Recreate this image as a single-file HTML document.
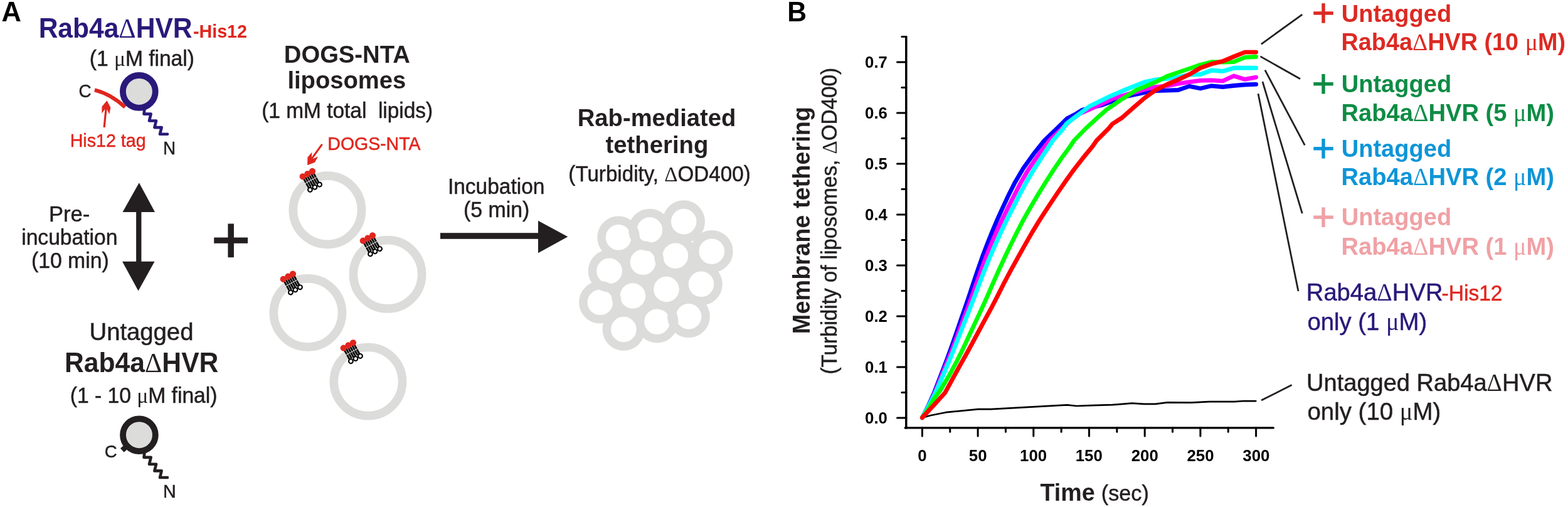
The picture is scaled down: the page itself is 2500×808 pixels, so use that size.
<!DOCTYPE html>
<html><head><meta charset="utf-8"><title>Figure</title>
<style>html,body{margin:0;padding:0;background:#fff;}svg{display:block;}text{font-family:"Liberation Sans", Arial, sans-serif;white-space:pre;}</style>
</head><body>
<svg width="2500" height="808" viewBox="0 0 2500 808">
<rect width="2500" height="808" fill="#fff"/>
<text transform="matrix(1 0 0 1.030 2.51 33.70)" style="font-size:43.50px;fill:#000;stroke:#000;stroke-width:0"><tspan style="font-weight:bold">A</tspan></text>
<text transform="matrix(1 0 0 1.030 61.65 59.50)" style="font-size:42.54px;fill:#2a197a;stroke:#2a197a;stroke-width:0"><tspan style="font-weight:bold">Rab4a</tspan><tspan style="font-weight:normal;font-family:'Liberation Serif',serif">Δ</tspan><tspan style="font-weight:bold">HVR</tspan></text>
<text transform="matrix(1 0 0 1.030 307.94 59.90)" style="font-size:28.69px;fill:#e0261e;stroke:#e0261e;stroke-width:0"><tspan style="font-weight:bold">-His12</tspan></text>
<text transform="matrix(1 0 0 1.030 142.74 104.60)" style="font-size:33.57px;fill:#231f20;stroke:#231f20;stroke-width:0"><tspan style="font-weight:normal;stroke-width:0.5px">(1 </tspan><tspan style="font-weight:normal;font-family:'Liberation Serif',serif">μ</tspan><tspan style="font-weight:normal;stroke-width:0.5px">M final)</tspan></text>
<text transform="matrix(1 0 0 1.030 125.61 154.60)" style="font-size:27.80px;fill:#231f20;stroke:#231f20;stroke-width:0"><tspan style="font-weight:normal;stroke-width:0.5px">C</tspan></text>
<text transform="matrix(1 0 0 1.030 111.69 233.70)" style="font-size:28.64px;fill:#e0261e;stroke:#e0261e;stroke-width:0"><tspan style="font-weight:normal;stroke-width:0.5px">His12 tag</tspan></text>
<text transform="matrix(1 0 0 1.030 260.09 245.50)" style="font-size:27.80px;fill:#231f20;stroke:#231f20;stroke-width:0"><tspan style="font-weight:normal;stroke-width:0.5px">N</tspan></text>
<text transform="matrix(1 0 0 1.030 77.95 353.20)" style="font-size:34.55px;fill:#231f20;stroke:#231f20;stroke-width:0"><tspan style="font-weight:normal;stroke-width:0.5px">Pre-</tspan></text>
<text transform="matrix(1 0 0 1.030 34.19 389.50)" style="font-size:33.62px;fill:#231f20;stroke:#231f20;stroke-width:0"><tspan style="font-weight:normal;stroke-width:0.5px">incubation</tspan></text>
<text transform="matrix(1 0 0 1.030 50.00 427.20)" style="font-size:33.73px;fill:#231f20;stroke:#231f20;stroke-width:0"><tspan style="font-weight:normal;stroke-width:0.5px">(10 min)</tspan></text>
<text transform="matrix(1 0 0 1.030 142.53 542.00)" style="font-size:38.27px;fill:#231f20;stroke:#231f20;stroke-width:0"><tspan style="font-weight:normal;stroke-width:0.5px">Untagged</tspan></text>
<text transform="matrix(1 0 0 1.030 102.99 592.70)" style="font-size:42.63px;fill:#231f20;stroke:#231f20;stroke-width:0"><tspan style="font-weight:bold">Rab4a</tspan><tspan style="font-weight:normal;font-family:'Liberation Serif',serif">Δ</tspan><tspan style="font-weight:bold">HVR</tspan></text>
<text transform="matrix(1 0 0 1.030 111.74 641.60)" style="font-size:33.63px;fill:#231f20;stroke:#231f20;stroke-width:0"><tspan style="font-weight:normal;stroke-width:0.5px">(1 - 10 </tspan><tspan style="font-weight:normal;font-family:'Liberation Serif',serif">μ</tspan><tspan style="font-weight:normal;stroke-width:0.5px">M final)</tspan></text>
<text transform="matrix(1 0 0 1.030 166.75 729.30)" style="font-size:27.60px;fill:#231f20;stroke:#231f20;stroke-width:0"><tspan style="font-weight:normal;stroke-width:0.5px">C</tspan></text>
<text transform="matrix(1 0 0 1.030 259.88 793.40)" style="font-size:28.60px;fill:#231f20;stroke:#231f20;stroke-width:0"><tspan style="font-weight:normal;stroke-width:0.5px">N</tspan></text>
<text transform="matrix(1 0 0 1.030 452.80 100.00)" style="font-size:38.23px;fill:#231f20;stroke:#231f20;stroke-width:0"><tspan style="font-weight:bold">DOGS-NTA</tspan></text>
<text transform="matrix(1 0 0 1.030 458.38 141.10)" style="font-size:38.19px;fill:#231f20;stroke:#231f20;stroke-width:0"><tspan style="font-weight:bold">liposomes</tspan></text>
<text transform="matrix(1 0 0 1.030 417.24 188.10)" style="font-size:33.43px;fill:#231f20;stroke:#231f20;stroke-width:0"><tspan style="font-weight:normal;stroke-width:0.5px">(1 mM total  lipids)</tspan></text>
<text transform="matrix(1 0 0 1.030 522.35 238.70)" style="font-size:28.46px;fill:#e0261e;stroke:#e0261e;stroke-width:0"><tspan style="font-weight:normal;stroke-width:0.5px">DOGS-NTA</tspan></text>
<text transform="matrix(1 0 0 1.030 713.90 308.60)" style="font-size:33.50px;fill:#231f20;stroke:#231f20;stroke-width:0"><tspan style="font-weight:normal;stroke-width:0.5px">Incubation</tspan></text>
<text transform="matrix(1 0 0 1.030 738.94 345.70)" style="font-size:33.86px;fill:#231f20;stroke:#231f20;stroke-width:0"><tspan style="font-weight:normal;stroke-width:0.5px">(5 min)</tspan></text>
<text transform="matrix(1 0 0 1.030 920.70 200.50)" style="font-size:38.23px;fill:#231f20;stroke:#231f20;stroke-width:0"><tspan style="font-weight:bold">Rab-mediated</tspan></text>
<text transform="matrix(1 0 0 1.030 965.46 243.50)" style="font-size:38.33px;fill:#231f20;stroke:#231f20;stroke-width:0"><tspan style="font-weight:bold">tethering</tspan></text>
<text transform="matrix(1 0 0 1.030 906.34 289.00)" style="font-size:33.16px;fill:#231f20;stroke:#231f20;stroke-width:0"><tspan style="font-weight:normal;stroke-width:0.5px">(Turbidity, </tspan><tspan style="font-weight:normal;font-family:'Liberation Serif',serif">Δ</tspan><tspan style="font-weight:normal;stroke-width:0.5px">OD400)</tspan></text>
<circle cx="221.8" cy="145.9" r="25.9" fill="#dcdcdb" stroke="#2a197a" stroke-width="9.8"/>
<polyline points="230.2,175.2 229.5,181.6 240.6,181.6 238.0,192.5 249.0,192.5 246.4,203.1 257.6,203.1 255.0,213.7 267.0,213.7" fill="none" stroke="#2a197a" stroke-width="4.6" stroke-linecap="round" stroke-linejoin="round"/>
<circle cx="221.9" cy="693.2" r="25.9" fill="#dcdcdb" stroke="#231f20" stroke-width="9.8"/>
<polyline points="230.2,722.5 229.5,728.9 240.6,728.9 238.0,739.8 249.0,739.8 246.4,750.4 257.6,750.4 255.0,761.0 267.0,761.0" fill="none" stroke="#231f20" stroke-width="4.6" stroke-linecap="round" stroke-linejoin="round"/>
<path d="M150.9,143.3 Q178,150.5 199.4,170.8" fill="none" stroke="#e0261e" stroke-width="6"/>
<line x1="166.1" y1="203" x2="169.2" y2="172" stroke="#e0261e" stroke-width="3.2"/>
<path d="M170.50,160.30 L176.38,171.46 L174.29,182.00 L170.75,174.40 L167.37,174.05 L162.35,180.77 L162.46,170.02 Z" fill="#e0261e"/>
<line x1="201.8" y1="711.3" x2="194.8" y2="717.6" stroke="#231f20" stroke-width="8.5"/>
<path d="M221.8,291.3 L247,338.1 L225.4,338.1 L225.4,416.8 L246.5,416.8 L220.5,463.6 L195,416.8 L217.1,416.8 L217.1,338.1 L195.5,338.1 Z" fill="#231f20"/>
<rect x="341.2" y="378.5" width="53.8" height="9.3" fill="#231f20"/>
<rect x="363.4" y="356.5" width="9.5" height="53.7" fill="#231f20"/>
<circle cx="521.9" cy="334.8" r="54.6" fill="none" stroke="#dcdcdb" stroke-width="13.7"/>
<circle cx="618.0" cy="437.2" r="54.6" fill="none" stroke="#dcdcdb" stroke-width="13.7"/>
<circle cx="490.9" cy="498.4" r="54.6" fill="none" stroke="#dcdcdb" stroke-width="13.7"/>
<circle cx="586.9" cy="608.1" r="54.6" fill="none" stroke="#dcdcdb" stroke-width="13.7"/>
<g transform="translate(495.9 287.3) rotate(-28.7)"><line x1="-9.00" y1="-8.6" x2="-9.00" y2="-0.55" stroke="#000" stroke-width="2.75"/><line x1="-9.00" y1="0.55" x2="-9.00" y2="9.2" stroke="#000" stroke-width="2.75"/><line x1="-5.40" y1="-8.6" x2="-5.40" y2="-0.55" stroke="#000" stroke-width="2.75"/><line x1="-5.40" y1="0.55" x2="-5.40" y2="9.2" stroke="#000" stroke-width="2.75"/><line x1="-1.80" y1="-8.6" x2="-1.80" y2="-0.55" stroke="#000" stroke-width="2.75"/><line x1="-1.80" y1="0.55" x2="-1.80" y2="9.2" stroke="#000" stroke-width="2.75"/><line x1="1.80" y1="-8.6" x2="1.80" y2="-0.55" stroke="#000" stroke-width="2.75"/><line x1="1.80" y1="0.55" x2="1.80" y2="9.2" stroke="#000" stroke-width="2.75"/><line x1="5.40" y1="-8.6" x2="5.40" y2="-0.55" stroke="#000" stroke-width="2.75"/><line x1="5.40" y1="0.55" x2="5.40" y2="9.2" stroke="#000" stroke-width="2.75"/><line x1="9.00" y1="-8.6" x2="9.00" y2="-0.55" stroke="#000" stroke-width="2.75"/><line x1="9.00" y1="0.55" x2="9.00" y2="9.2" stroke="#000" stroke-width="2.75"/><circle cx="-8.70" cy="-11.6" r="5.1" fill="#e0261e"/><circle cx="-8.60" cy="12.5" r="3.4" fill="#fff" stroke="#000" stroke-width="2.1"/><circle cx="0.00" cy="-11.6" r="5.1" fill="#e0261e"/><circle cx="0.00" cy="12.5" r="3.4" fill="#fff" stroke="#000" stroke-width="2.1"/><circle cx="8.70" cy="-11.6" r="5.1" fill="#e0261e"/><circle cx="8.60" cy="12.5" r="3.4" fill="#fff" stroke="#000" stroke-width="2.1"/></g>
<g transform="translate(592.0 389.7) rotate(-28.7)"><line x1="-9.00" y1="-8.6" x2="-9.00" y2="-0.55" stroke="#000" stroke-width="2.75"/><line x1="-9.00" y1="0.55" x2="-9.00" y2="9.2" stroke="#000" stroke-width="2.75"/><line x1="-5.40" y1="-8.6" x2="-5.40" y2="-0.55" stroke="#000" stroke-width="2.75"/><line x1="-5.40" y1="0.55" x2="-5.40" y2="9.2" stroke="#000" stroke-width="2.75"/><line x1="-1.80" y1="-8.6" x2="-1.80" y2="-0.55" stroke="#000" stroke-width="2.75"/><line x1="-1.80" y1="0.55" x2="-1.80" y2="9.2" stroke="#000" stroke-width="2.75"/><line x1="1.80" y1="-8.6" x2="1.80" y2="-0.55" stroke="#000" stroke-width="2.75"/><line x1="1.80" y1="0.55" x2="1.80" y2="9.2" stroke="#000" stroke-width="2.75"/><line x1="5.40" y1="-8.6" x2="5.40" y2="-0.55" stroke="#000" stroke-width="2.75"/><line x1="5.40" y1="0.55" x2="5.40" y2="9.2" stroke="#000" stroke-width="2.75"/><line x1="9.00" y1="-8.6" x2="9.00" y2="-0.55" stroke="#000" stroke-width="2.75"/><line x1="9.00" y1="0.55" x2="9.00" y2="9.2" stroke="#000" stroke-width="2.75"/><circle cx="-8.70" cy="-11.6" r="5.1" fill="#e0261e"/><circle cx="-8.60" cy="12.5" r="3.4" fill="#fff" stroke="#000" stroke-width="2.1"/><circle cx="0.00" cy="-11.6" r="5.1" fill="#e0261e"/><circle cx="0.00" cy="12.5" r="3.4" fill="#fff" stroke="#000" stroke-width="2.1"/><circle cx="8.70" cy="-11.6" r="5.1" fill="#e0261e"/><circle cx="8.60" cy="12.5" r="3.4" fill="#fff" stroke="#000" stroke-width="2.1"/></g>
<g transform="translate(464.9 450.9) rotate(-28.7)"><line x1="-9.00" y1="-8.6" x2="-9.00" y2="-0.55" stroke="#000" stroke-width="2.75"/><line x1="-9.00" y1="0.55" x2="-9.00" y2="9.2" stroke="#000" stroke-width="2.75"/><line x1="-5.40" y1="-8.6" x2="-5.40" y2="-0.55" stroke="#000" stroke-width="2.75"/><line x1="-5.40" y1="0.55" x2="-5.40" y2="9.2" stroke="#000" stroke-width="2.75"/><line x1="-1.80" y1="-8.6" x2="-1.80" y2="-0.55" stroke="#000" stroke-width="2.75"/><line x1="-1.80" y1="0.55" x2="-1.80" y2="9.2" stroke="#000" stroke-width="2.75"/><line x1="1.80" y1="-8.6" x2="1.80" y2="-0.55" stroke="#000" stroke-width="2.75"/><line x1="1.80" y1="0.55" x2="1.80" y2="9.2" stroke="#000" stroke-width="2.75"/><line x1="5.40" y1="-8.6" x2="5.40" y2="-0.55" stroke="#000" stroke-width="2.75"/><line x1="5.40" y1="0.55" x2="5.40" y2="9.2" stroke="#000" stroke-width="2.75"/><line x1="9.00" y1="-8.6" x2="9.00" y2="-0.55" stroke="#000" stroke-width="2.75"/><line x1="9.00" y1="0.55" x2="9.00" y2="9.2" stroke="#000" stroke-width="2.75"/><circle cx="-8.70" cy="-11.6" r="5.1" fill="#e0261e"/><circle cx="-8.60" cy="12.5" r="3.4" fill="#fff" stroke="#000" stroke-width="2.1"/><circle cx="0.00" cy="-11.6" r="5.1" fill="#e0261e"/><circle cx="0.00" cy="12.5" r="3.4" fill="#fff" stroke="#000" stroke-width="2.1"/><circle cx="8.70" cy="-11.6" r="5.1" fill="#e0261e"/><circle cx="8.60" cy="12.5" r="3.4" fill="#fff" stroke="#000" stroke-width="2.1"/></g>
<g transform="translate(560.9 560.6) rotate(-28.7)"><line x1="-9.00" y1="-8.6" x2="-9.00" y2="-0.55" stroke="#000" stroke-width="2.75"/><line x1="-9.00" y1="0.55" x2="-9.00" y2="9.2" stroke="#000" stroke-width="2.75"/><line x1="-5.40" y1="-8.6" x2="-5.40" y2="-0.55" stroke="#000" stroke-width="2.75"/><line x1="-5.40" y1="0.55" x2="-5.40" y2="9.2" stroke="#000" stroke-width="2.75"/><line x1="-1.80" y1="-8.6" x2="-1.80" y2="-0.55" stroke="#000" stroke-width="2.75"/><line x1="-1.80" y1="0.55" x2="-1.80" y2="9.2" stroke="#000" stroke-width="2.75"/><line x1="1.80" y1="-8.6" x2="1.80" y2="-0.55" stroke="#000" stroke-width="2.75"/><line x1="1.80" y1="0.55" x2="1.80" y2="9.2" stroke="#000" stroke-width="2.75"/><line x1="5.40" y1="-8.6" x2="5.40" y2="-0.55" stroke="#000" stroke-width="2.75"/><line x1="5.40" y1="0.55" x2="5.40" y2="9.2" stroke="#000" stroke-width="2.75"/><line x1="9.00" y1="-8.6" x2="9.00" y2="-0.55" stroke="#000" stroke-width="2.75"/><line x1="9.00" y1="0.55" x2="9.00" y2="9.2" stroke="#000" stroke-width="2.75"/><circle cx="-8.70" cy="-11.6" r="5.1" fill="#e0261e"/><circle cx="-8.60" cy="12.5" r="3.4" fill="#fff" stroke="#000" stroke-width="2.1"/><circle cx="0.00" cy="-11.6" r="5.1" fill="#e0261e"/><circle cx="0.00" cy="12.5" r="3.4" fill="#fff" stroke="#000" stroke-width="2.1"/><circle cx="8.70" cy="-11.6" r="5.1" fill="#e0261e"/><circle cx="8.60" cy="12.5" r="3.4" fill="#fff" stroke="#000" stroke-width="2.1"/></g>
<line x1="513.6" y1="229.8" x2="497.5" y2="252.2" stroke="#e0261e" stroke-width="3"/>
<path d="M490.10,263.30 L490.41,250.68 L497.38,242.51 L496.76,250.87 L499.54,252.82 L507.20,249.41 L501.86,258.73 Z" fill="#e0261e"/>
<rect x="702" y="371.2" width="157" height="9.6" fill="#231f20"/>
<path d="M858,351.7 L905.3,377.3 L858,403.3 Z" fill="#231f20"/>
<circle cx="986.1" cy="378.4" r="27.05" fill="none" stroke="#dcdcdb" stroke-width="13.5"/>
<circle cx="1035.9" cy="366.5" r="27.05" fill="none" stroke="#dcdcdb" stroke-width="13.5"/>
<circle cx="1090.2" cy="353.1" r="27.05" fill="none" stroke="#dcdcdb" stroke-width="13.5"/>
<circle cx="1134.8" cy="400.7" r="27.05" fill="none" stroke="#dcdcdb" stroke-width="13.5"/>
<circle cx="1076.9" cy="407.7" r="27.05" fill="none" stroke="#dcdcdb" stroke-width="13.5"/>
<circle cx="1025.0" cy="417.8" r="27.05" fill="none" stroke="#dcdcdb" stroke-width="13.5"/>
<circle cx="971.6" cy="431.9" r="27.05" fill="none" stroke="#dcdcdb" stroke-width="13.5"/>
<circle cx="956.9" cy="481.8" r="27.05" fill="none" stroke="#dcdcdb" stroke-width="13.5"/>
<circle cx="1008.9" cy="471.5" r="27.05" fill="none" stroke="#dcdcdb" stroke-width="13.5"/>
<circle cx="1062.5" cy="461.0" r="27.05" fill="none" stroke="#dcdcdb" stroke-width="13.5"/>
<circle cx="1118.0" cy="452.8" r="27.05" fill="none" stroke="#dcdcdb" stroke-width="13.5"/>
<circle cx="1098.0" cy="504.4" r="27.05" fill="none" stroke="#dcdcdb" stroke-width="13.5"/>
<circle cx="1047.6" cy="512.7" r="27.05" fill="none" stroke="#dcdcdb" stroke-width="13.5"/>
<circle cx="994.4" cy="525.0" r="27.05" fill="none" stroke="#dcdcdb" stroke-width="13.5"/>
<text transform="matrix(1 0 0 1.030 1255.22 33.70)" style="font-size:42.60px;fill:#000;stroke:#000;stroke-width:0"><tspan style="font-weight:bold">B</tspan></text>
<line x1="1444.8" y1="57.4" x2="1444.8" y2="683.5" stroke="#000" stroke-width="3.5"/>
<line x1="1443.1" y1="681.8" x2="2030.3" y2="681.8" stroke="#000" stroke-width="3.3" stroke-linecap="round"/>
<line x1="1430.5" y1="665.90" x2="1444.8" y2="665.90" stroke="#000" stroke-width="3" stroke-linecap="round"/>
<line x1="1437.9" y1="625.40" x2="1444.8" y2="625.40" stroke="#000" stroke-width="3" stroke-linecap="round"/>
<line x1="1430.5" y1="584.91" x2="1444.8" y2="584.91" stroke="#000" stroke-width="3" stroke-linecap="round"/>
<line x1="1437.9" y1="544.41" x2="1444.8" y2="544.41" stroke="#000" stroke-width="3" stroke-linecap="round"/>
<line x1="1430.5" y1="503.92" x2="1444.8" y2="503.92" stroke="#000" stroke-width="3" stroke-linecap="round"/>
<line x1="1437.9" y1="463.42" x2="1444.8" y2="463.42" stroke="#000" stroke-width="3" stroke-linecap="round"/>
<line x1="1430.5" y1="422.93" x2="1444.8" y2="422.93" stroke="#000" stroke-width="3" stroke-linecap="round"/>
<line x1="1437.9" y1="382.43" x2="1444.8" y2="382.43" stroke="#000" stroke-width="3" stroke-linecap="round"/>
<line x1="1430.5" y1="341.94" x2="1444.8" y2="341.94" stroke="#000" stroke-width="3" stroke-linecap="round"/>
<line x1="1437.9" y1="301.44" x2="1444.8" y2="301.44" stroke="#000" stroke-width="3" stroke-linecap="round"/>
<line x1="1430.5" y1="260.95" x2="1444.8" y2="260.95" stroke="#000" stroke-width="3" stroke-linecap="round"/>
<line x1="1437.9" y1="220.45" x2="1444.8" y2="220.45" stroke="#000" stroke-width="3" stroke-linecap="round"/>
<line x1="1430.5" y1="179.96" x2="1444.8" y2="179.96" stroke="#000" stroke-width="3" stroke-linecap="round"/>
<line x1="1437.9" y1="139.46" x2="1444.8" y2="139.46" stroke="#000" stroke-width="3" stroke-linecap="round"/>
<line x1="1430.5" y1="98.97" x2="1444.8" y2="98.97" stroke="#000" stroke-width="3" stroke-linecap="round"/>
<line x1="1437.9" y1="58.48" x2="1444.8" y2="58.48" stroke="#000" stroke-width="3" stroke-linecap="round"/>
<line x1="1470.40" y1="681.8" x2="1470.40" y2="695.1" stroke="#000" stroke-width="3" stroke-linecap="round"/>
<line x1="1514.75" y1="681.8" x2="1514.75" y2="688.2" stroke="#000" stroke-width="3" stroke-linecap="round"/>
<line x1="1559.10" y1="681.8" x2="1559.10" y2="695.1" stroke="#000" stroke-width="3" stroke-linecap="round"/>
<line x1="1603.45" y1="681.8" x2="1603.45" y2="688.2" stroke="#000" stroke-width="3" stroke-linecap="round"/>
<line x1="1647.80" y1="681.8" x2="1647.80" y2="695.1" stroke="#000" stroke-width="3" stroke-linecap="round"/>
<line x1="1692.15" y1="681.8" x2="1692.15" y2="688.2" stroke="#000" stroke-width="3" stroke-linecap="round"/>
<line x1="1736.50" y1="681.8" x2="1736.50" y2="695.1" stroke="#000" stroke-width="3" stroke-linecap="round"/>
<line x1="1780.85" y1="681.8" x2="1780.85" y2="688.2" stroke="#000" stroke-width="3" stroke-linecap="round"/>
<line x1="1825.20" y1="681.8" x2="1825.20" y2="695.1" stroke="#000" stroke-width="3" stroke-linecap="round"/>
<line x1="1869.55" y1="681.8" x2="1869.55" y2="688.2" stroke="#000" stroke-width="3" stroke-linecap="round"/>
<line x1="1913.90" y1="681.8" x2="1913.90" y2="695.1" stroke="#000" stroke-width="3" stroke-linecap="round"/>
<line x1="1958.25" y1="681.8" x2="1958.25" y2="688.2" stroke="#000" stroke-width="3" stroke-linecap="round"/>
<line x1="2002.60" y1="681.8" x2="2002.60" y2="695.1" stroke="#000" stroke-width="3" stroke-linecap="round"/>
<text transform="matrix(1 0 0 1.030 1379.10 675.10)" style="font-size:25.80px;fill:#000;stroke:#000;stroke-width:0"><tspan style="font-weight:bold">0.0</tspan></text>
<text transform="matrix(1 0 0 1.030 1379.10 594.11)" style="font-size:25.80px;fill:#000;stroke:#000;stroke-width:0"><tspan style="font-weight:bold">0.1</tspan></text>
<text transform="matrix(1 0 0 1.030 1379.10 513.12)" style="font-size:25.80px;fill:#000;stroke:#000;stroke-width:0"><tspan style="font-weight:bold">0.2</tspan></text>
<text transform="matrix(1 0 0 1.030 1379.10 432.13)" style="font-size:25.80px;fill:#000;stroke:#000;stroke-width:0"><tspan style="font-weight:bold">0.3</tspan></text>
<text transform="matrix(1 0 0 1.030 1379.10 351.14)" style="font-size:25.80px;fill:#000;stroke:#000;stroke-width:0"><tspan style="font-weight:bold">0.4</tspan></text>
<text transform="matrix(1 0 0 1.030 1379.10 270.15)" style="font-size:25.80px;fill:#000;stroke:#000;stroke-width:0"><tspan style="font-weight:bold">0.5</tspan></text>
<text transform="matrix(1 0 0 1.030 1379.10 189.16)" style="font-size:25.80px;fill:#000;stroke:#000;stroke-width:0"><tspan style="font-weight:bold">0.6</tspan></text>
<text transform="matrix(1 0 0 1.030 1379.10 108.17)" style="font-size:25.80px;fill:#000;stroke:#000;stroke-width:0"><tspan style="font-weight:bold">0.7</tspan></text>
<text transform="matrix(1 0 0 1.030 1463.21 734.60)" style="font-size:25.80px;fill:#000;stroke:#000;stroke-width:0"><tspan style="font-weight:bold">0</tspan></text>
<text transform="matrix(1 0 0 1.030 1544.85 734.60)" style="font-size:25.80px;fill:#000;stroke:#000;stroke-width:0"><tspan style="font-weight:bold">50</tspan></text>
<text transform="matrix(1 0 0 1.030 1626.05 734.60)" style="font-size:25.80px;fill:#000;stroke:#000;stroke-width:0"><tspan style="font-weight:bold">100</tspan></text>
<text transform="matrix(1 0 0 1.030 1714.75 734.60)" style="font-size:25.80px;fill:#000;stroke:#000;stroke-width:0"><tspan style="font-weight:bold">150</tspan></text>
<text transform="matrix(1 0 0 1.030 1803.76 734.60)" style="font-size:25.80px;fill:#000;stroke:#000;stroke-width:0"><tspan style="font-weight:bold">200</tspan></text>
<text transform="matrix(1 0 0 1.030 1892.46 734.60)" style="font-size:25.80px;fill:#000;stroke:#000;stroke-width:0"><tspan style="font-weight:bold">250</tspan></text>
<text transform="matrix(1 0 0 1.030 1981.35 734.60)" style="font-size:25.80px;fill:#000;stroke:#000;stroke-width:0"><tspan style="font-weight:bold">300</tspan></text>
<text transform="matrix(1 0 0 1.030 1658.42 797.80)" style="font-size:37.69px;fill:#231f20;stroke:#231f20;stroke-width:0"><tspan style="font-weight:bold">Time</tspan></text>
<text transform="matrix(1 0 0 1.030 1755.80 797.80)" style="font-size:34.24px;fill:#231f20;stroke:#231f20;stroke-width:0"><tspan style="font-weight:normal;stroke-width:0.5px">(sec)</tspan></text>
<text transform="translate(1291.30 529.60) rotate(-90) scale(1 1.030)" x="-2.56" y="0" style="font-size:37.91px;fill:#231f20;stroke:#231f20;stroke-width:0"><tspan style="font-weight:bold">Membrane tethering</tspan></text>
<text transform="translate(1333.50 594.60) rotate(-90) scale(1 1.030)" x="-2.00" y="0" style="font-size:33.19px;fill:#231f20;stroke:#231f20;stroke-width:0"><tspan style="font-weight:normal;stroke-width:0.5px">(Turbidity of liposomes, </tspan><tspan style="font-weight:normal;font-family:'Liberation Serif',serif">Δ</tspan><tspan style="font-weight:normal;stroke-width:0.5px">OD400)</tspan></text>
<polyline points="1471.4,665.4 1484.0,662.0 1508.0,657.2 1559.6,652.2 1580.0,652.2 1701.2,645.4 1716.8,647.0 1740.0,646.2 1773.6,645.2 1804.8,642.6 1824.0,643.8 1842.0,643.8 1861.2,641.4 1899.6,641.6 1928.4,640.2 1968.0,640.2 1983.6,639.0 2002.2,639.2" fill="none" stroke="#000" stroke-width="2.7" stroke-linejoin="round" stroke-linecap="round"/>
<polyline points="1470.4,665.6 1479.5,647.8 1488.5,628.0 1499.7,599.1 1510.0,572.1 1518.4,548.9 1525.4,528.9 1532.0,509.6 1538.9,489.8 1545.7,469.9 1552.3,449.8 1559.1,429.9 1566.1,409.8 1573.6,389.9 1581.6,369.9 1590.1,349.9 1599.1,330.1 1608.4,310.2 1618.7,289.9 1631.7,268.1 1647.7,245.7 1665.1,224.0 1684.2,205.6 1701.0,189.1 1714.1,182.3 1725.2,175.3 1755.7,167.8 1796.5,153.4 1825.2,147.5 1842.9,144.7 1860.7,144.2 1878.4,143.5 1896.2,137.4 1913.9,141.0 1931.6,136.8 1949.4,138.5 1967.1,136.5 1984.9,135.0 2002.6,134.4" fill="none" stroke="#0000ff" stroke-width="6.8" stroke-linejoin="round" stroke-linecap="round"/>
<polyline points="1470.4,665.6 1480.5,647.8 1489.5,628.0 1502.0,597.3 1513.2,569.4 1521.9,547.1 1528.7,528.5 1535.7,509.6 1543.1,489.8 1550.4,469.9 1557.4,449.8 1564.5,429.9 1571.9,409.8 1579.9,389.9 1588.6,369.9 1597.9,349.9 1607.7,330.1 1617.6,310.2 1627.8,290.5 1639.5,270.5 1654.5,248.7 1673.0,224.0 1690.0,208.0 1705.0,193.5 1721.0,181.5 1737.0,174.5 1774.2,157.1 1825.2,142.4 1842.9,138.6 1860.7,136.8 1878.4,133.3 1896.2,130.7 1913.9,128.4 1931.6,127.9 1949.4,129.1 1967.1,121.0 1984.9,126.4 2002.6,123.2" fill="none" stroke="#ff00ff" stroke-width="6.8" stroke-linejoin="round" stroke-linecap="round"/>
<polyline points="1470.4,665.6 1480.1,647.8 1490.5,628.0 1502.8,599.8 1512.9,576.3 1519.8,559.5 1525.4,545.1 1531.9,528.5 1539.3,509.6 1547.1,489.8 1554.8,469.9 1562.3,449.8 1570.1,429.9 1578.3,409.8 1586.9,389.9 1595.9,369.9 1605.5,349.9 1615.6,330.1 1625.7,310.2 1636.3,290.5 1648.2,270.5 1662.3,248.7 1678.6,224.0 1694.0,206.5 1700.5,197.0 1736.7,169.7 1766.8,154.8 1794.0,143.0 1825.2,130.7 1842.9,127.0 1860.7,125.2 1878.4,122.9 1896.2,119.1 1913.9,118.5 1931.6,112.1 1949.4,113.6 1967.1,108.3 1984.9,108.3 2002.6,108.3" fill="none" stroke="#00ffff" stroke-width="7.0" stroke-linejoin="round" stroke-linecap="round"/>
<polyline points="1470.4,665.6 1480.5,651.0 1489.0,636.0 1500.3,620.2 1513.2,598.6 1525.2,576.3 1533.6,559.5 1540.4,545.1 1548.1,528.5 1557.0,509.6 1566.3,489.8 1575.2,469.9 1583.9,449.8 1592.8,429.9 1602.1,409.8 1611.6,389.9 1621.5,369.9 1631.9,349.9 1643.1,330.1 1654.9,310.2 1667.1,290.5 1679.5,271.1 1692.3,252.3 1706.1,233.5 1712.4,224.0 1730.9,205.0 1747.1,190.0 1764.0,175.0 1789.1,157.8 1811.4,143.7 1825.2,138.2 1842.9,130.7 1860.7,121.5 1878.4,115.4 1896.2,109.4 1913.9,103.2 1931.6,98.7 1949.4,99.2 1967.1,98.7 1984.9,91.3 2002.6,90.5" fill="none" stroke="#00ff00" stroke-width="6.8" stroke-linejoin="round" stroke-linecap="round"/>
<polyline points="1470.4,665.6 1488.0,646.6 1506.5,626.3 1521.4,599.2 1534.1,576.2 1543.4,559.5 1551.2,545.1 1560.1,528.5 1570.3,509.6 1581.1,489.8 1591.4,469.9 1601.5,449.8 1612.1,429.9 1623.2,409.8 1634.4,389.9 1645.9,369.9 1658.1,349.9 1671.0,330.1 1684.3,310.2 1697.8,290.5 1711.7,271.1 1726.3,252.3 1741.8,233.5 1748.4,224.0 1767.2,205.3 1773.8,197.3 1789.1,187.5 1807.6,171.2 1825.2,156.0 1842.9,143.3 1860.7,134.5 1878.4,127.0 1896.2,118.7 1913.9,108.3 1931.6,101.9 1949.4,97.7 1967.1,90.3 1984.9,83.1 2002.6,83.1" fill="none" stroke="#ff0000" stroke-width="6.9" stroke-linejoin="round" stroke-linecap="round"/>
<line x1="2010.9" y1="70.3" x2="2076.3" y2="23.1" stroke="#231f20" stroke-width="2.8"/>
<line x1="2009.5" y1="89.9" x2="2073.0" y2="125.8" stroke="#231f20" stroke-width="2.8"/>
<line x1="2016.9" y1="111.7" x2="2080.3" y2="231.3" stroke="#231f20" stroke-width="2.8"/>
<line x1="2013.0" y1="130.2" x2="2076.3" y2="340.2" stroke="#231f20" stroke-width="2.8"/>
<line x1="2006.0" y1="149.2" x2="2070.0" y2="464.0" stroke="#231f20" stroke-width="2.8"/>
<line x1="2011.0" y1="638.0" x2="2059.6" y2="613.6" stroke="#231f20" stroke-width="2.8"/>
<rect x="2094.25" y="18.30" width="31.5" height="5.4" fill="#dc2a23"/>
<rect x="2107.30" y="5.25" width="5.4" height="31.5" fill="#dc2a23"/>
<text transform="matrix(1 0 0 1.030 2138.75 34.90)" style="font-size:38.05px;fill:#dc2a23;stroke:#dc2a23;stroke-width:0"><tspan style="font-weight:bold">Untagged</tspan></text>
<text transform="matrix(1 0 0 1.030 2138.50 80.30)" style="font-size:37.79px;fill:#dc2a23;stroke:#dc2a23;stroke-width:0"><tspan style="font-weight:bold">Rab4a</tspan><tspan style="font-weight:normal;font-family:'Liberation Serif',serif">Δ</tspan><tspan style="font-weight:bold">HVR (10 </tspan><tspan style="font-weight:normal;font-family:'Liberation Serif',serif">μ</tspan><tspan style="font-weight:bold">M)</tspan></text>
<rect x="2094.25" y="131.10" width="31.5" height="5.4" fill="#0e8c45"/>
<rect x="2107.30" y="118.05" width="5.4" height="31.5" fill="#0e8c45"/>
<text transform="matrix(1 0 0 1.030 2138.75 147.10)" style="font-size:38.05px;fill:#0e8c45;stroke:#0e8c45;stroke-width:0"><tspan style="font-weight:bold">Untagged</tspan></text>
<text transform="matrix(1 0 0 1.030 2138.44 193.40)" style="font-size:38.16px;fill:#0e8c45;stroke:#0e8c45;stroke-width:0"><tspan style="font-weight:bold">Rab4a</tspan><tspan style="font-weight:normal;font-family:'Liberation Serif',serif">Δ</tspan><tspan style="font-weight:bold">HVR (5 </tspan><tspan style="font-weight:normal;font-family:'Liberation Serif',serif">μ</tspan><tspan style="font-weight:bold">M)</tspan></text>
<rect x="2094.25" y="234.10" width="31.5" height="5.4" fill="#0e95d7"/>
<rect x="2107.30" y="221.05" width="5.4" height="31.5" fill="#0e95d7"/>
<text transform="matrix(1 0 0 1.030 2138.75 250.40)" style="font-size:38.05px;fill:#0e95d7;stroke:#0e95d7;stroke-width:0"><tspan style="font-weight:bold">Untagged</tspan></text>
<text transform="matrix(1 0 0 1.030 2138.44 295.30)" style="font-size:38.16px;fill:#0e95d7;stroke:#0e95d7;stroke-width:0"><tspan style="font-weight:bold">Rab4a</tspan><tspan style="font-weight:normal;font-family:'Liberation Serif',serif">Δ</tspan><tspan style="font-weight:bold">HVR (2 </tspan><tspan style="font-weight:normal;font-family:'Liberation Serif',serif">μ</tspan><tspan style="font-weight:bold">M)</tspan></text>
<rect x="2094.25" y="343.50" width="31.5" height="5.4" fill="#f0a1a5"/>
<rect x="2107.30" y="330.45" width="5.4" height="31.5" fill="#f0a1a5"/>
<text transform="matrix(1 0 0 1.030 2138.75 358.50)" style="font-size:38.05px;fill:#f0a1a5;stroke:#f0a1a5;stroke-width:0"><tspan style="font-weight:bold">Untagged</tspan></text>
<text transform="matrix(1 0 0 1.030 2138.44 405.60)" style="font-size:38.16px;fill:#f0a1a5;stroke:#f0a1a5;stroke-width:0"><tspan style="font-weight:bold">Rab4a</tspan><tspan style="font-weight:normal;font-family:'Liberation Serif',serif">Δ</tspan><tspan style="font-weight:bold">HVR (1 </tspan><tspan style="font-weight:normal;font-family:'Liberation Serif',serif">μ</tspan><tspan style="font-weight:bold">M)</tspan></text>
<text transform="matrix(1 0 0 1.030 2082.81 479.00)" style="font-size:38.18px;fill:#2a197a;stroke:#2a197a;stroke-width:0"><tspan style="font-weight:normal;stroke-width:0.5px">Rab4a</tspan><tspan style="font-weight:normal;font-family:'Liberation Serif',serif">Δ</tspan><tspan style="font-weight:normal;stroke-width:0.5px">HVR</tspan></text>
<text transform="matrix(1 0 0 1.030 2298.56 479.00)" style="font-size:33.56px;fill:#e0261e;stroke:#e0261e;stroke-width:0"><tspan style="font-weight:normal;stroke-width:0.5px">-His12</tspan></text>
<text transform="matrix(1 0 0 1.030 2084.44 526.00)" style="font-size:38.32px;fill:#2a197a;stroke:#2a197a;stroke-width:0"><tspan style="font-weight:normal;stroke-width:0.5px">only (1 </tspan><tspan style="font-weight:normal;font-family:'Liberation Serif',serif">μ</tspan><tspan style="font-weight:normal;stroke-width:0.5px">M)</tspan></text>
<text transform="matrix(1 0 0 1.030 2083.12 623.00)" style="font-size:38.03px;fill:#231f20;stroke:#231f20;stroke-width:0"><tspan style="font-weight:normal;stroke-width:0.5px">Untagged Rab4a</tspan><tspan style="font-weight:normal;font-family:'Liberation Serif',serif">Δ</tspan><tspan style="font-weight:normal;stroke-width:0.5px">HVR</tspan></text>
<text transform="matrix(1 0 0 1.030 2084.44 669.00)" style="font-size:38.42px;fill:#231f20;stroke:#231f20;stroke-width:0"><tspan style="font-weight:normal;stroke-width:0.5px">only (10 </tspan><tspan style="font-weight:normal;font-family:'Liberation Serif',serif">μ</tspan><tspan style="font-weight:normal;stroke-width:0.5px">M)</tspan></text>
</svg>
</body></html>
